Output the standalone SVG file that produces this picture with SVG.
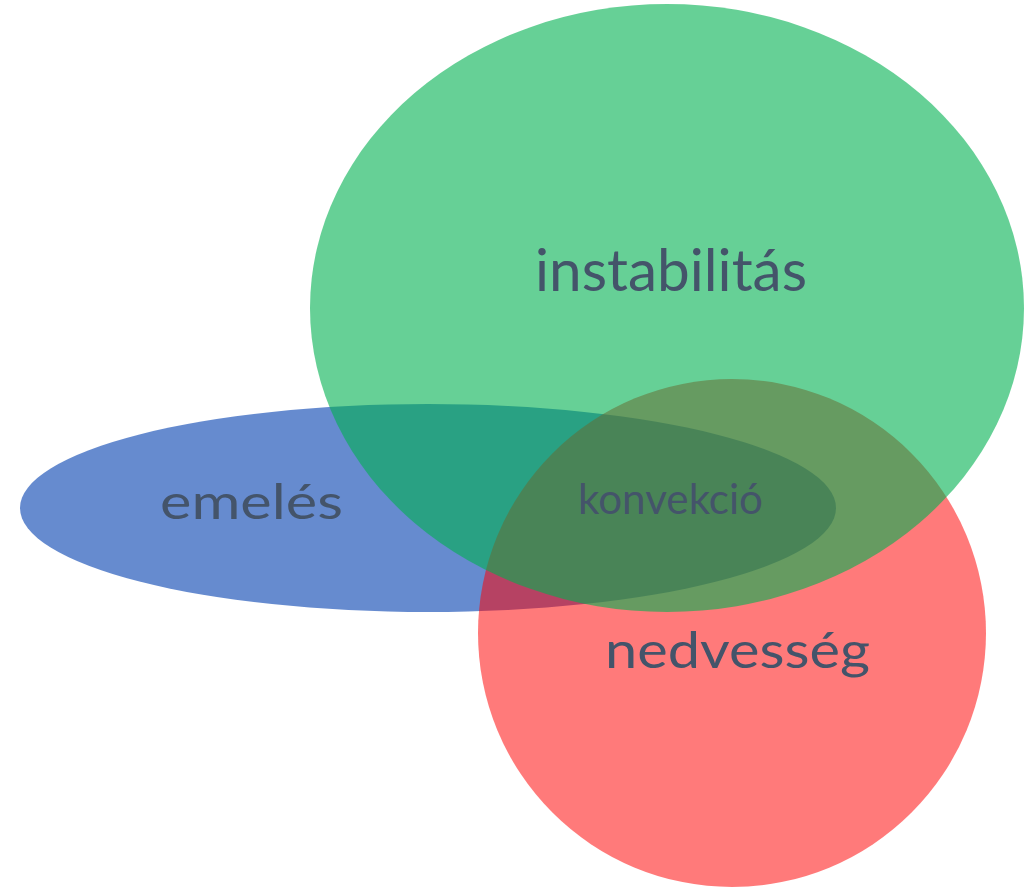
<svg xmlns="http://www.w3.org/2000/svg" width="1027" height="888" viewBox="0 0 1027 888">
<style>
.lbl{font-family:Lato,"Open Sans","Liberation Sans",sans-serif;fill:#44546A}
</style>
<rect width="1027" height="888" fill="#FFFFFF"/>
<g id="emeles">
<ellipse cx="428" cy="508" rx="408" ry="104" fill="#4472C4" fill-opacity="0.82"/>
</g>
<g id="nedvesseg">
<ellipse cx="732" cy="633" rx="254" ry="254" fill="#FF0000" fill-opacity="0.52"/>
</g>
<g id="instabilitas">
<ellipse cx="667" cy="308" rx="357" ry="304" fill="#00B050" fill-opacity="0.6"/>
</g>
<g id="labels">
<text class="lbl" x="535" y="291" font-size="58" textLength="272" lengthAdjust="spacingAndGlyphs">instabilitás</text>
<text class="lbl" x="160" y="519" font-size="48" textLength="183" lengthAdjust="spacingAndGlyphs">emelés</text>
<text class="lbl" x="578" y="514" font-size="42" textLength="185" lengthAdjust="spacingAndGlyphs">konvekció</text>
<text class="lbl" x="605" y="668" font-size="50" textLength="265" lengthAdjust="spacingAndGlyphs">nedvesség</text>
</g>
</svg>
